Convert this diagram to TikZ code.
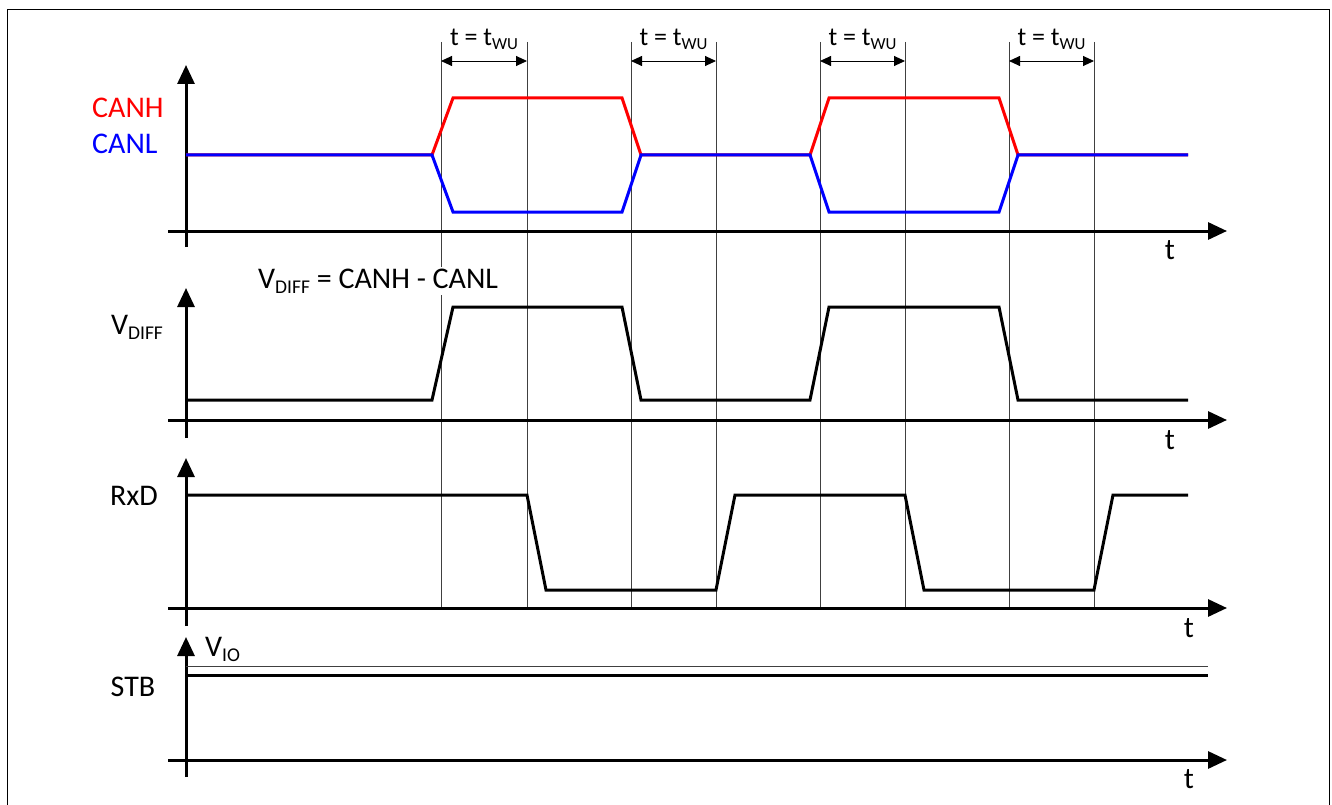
\documentclass[tikz,border=0pt]{standalone}
\usepackage{fontspec}
\setmainfont{Carlito}
\usetikzlibrary{arrows.meta}
\newcommand{\lowidx}[1]{\raisebox{-0.17em}{\scalebox{0.65}{#1}}}

\begin{document}
\begin{tikzpicture}[x=1pt, y=-1pt]
        \tikzstyle{axis}=[line width=3pt, -{Triangle[length=19pt, width=17pt]}]
        \tikzstyle{wave}=[line width=3pt, line join=miter]
        \tikzstyle{guide}=[line width=0.9pt, draw=black!75]
        \tikzstyle{span}=[line width=0.9pt, {Triangle[length=11pt, width=10pt]}-{Triangle[length=11pt, width=10pt]}]
        \tikzstyle{txt}=[inner sep=0pt, font=\fontsize{30}{36}\selectfont]
        \tikzstyle{small txt}=[inner sep=0pt, font=\fontsize{26}{31}\selectfont]
        % \draw[draw=black!20] (0,0) grid[step=100] (1332, 805);
        \useasboundingbox (0, 0) rectangle (1332, 805);
        \draw[line width=1pt] (7, 805) -- (7, 10) -- (1329, 10) -- (1329, 805);

        % guides
        \draw[guide] (441, 42) -- (441, 608);
        \draw[guide] (527, 42) -- (527, 608);
        \draw[guide] (631, 42) -- (631, 608);
        \draw[guide] (716, 42) -- (716, 608);
        \draw[guide] (820, 42) -- (820, 608);
        \draw[guide] (905, 42) -- (905, 608);
        \draw[guide] (1009, 42) -- (1009, 608);
        \draw[guide] (1094, 42) -- (1094, 608);

        \draw[span] (441, 61) -- node[small txt, above=11pt] (wu1) {t = t\lowidx{WU}} (527, 61);
        \draw[span] (631, 61) -- node[small txt, above=11pt] (wu2) {t = t\lowidx{WU}} (716, 61);
        \draw[span] (820, 61) -- node[small txt, above=11pt] (wu3) {t = t\lowidx{WU}} (905, 61);
        \draw[span] (1009, 61) -- node[small txt, above=11pt] (wu4) {t = t\lowidx{WU}} (1094, 61);

        % CANH / CANL
        \draw[axis] (186, 247) -- (186, 65);
        \draw[axis] (168, 231) -- (1227, 231);
        \node[txt, red, anchor=base west] (canh) at (92, 118) {CANH};
        \node[txt, blue, anchor=base west] (canl) at (92, 154) {CANL};
        \node[txt, anchor=base] (t1) at (1170, 259) {t};
        \draw[wave, red] (186, 155) -- (432, 155) -- (453, 98) -- (622, 98) -- (641, 155) -- (810, 155) -- (829, 98) -- (999, 98) -- (1018, 155) -- (1188, 155);
        \draw[wave, blue] (186, 155) -- (432, 155) -- (453, 212) -- (622, 212) -- (641, 155) -- (810, 155) -- (829, 212) -- (999, 212) -- (1018, 155) -- (1188, 155);

        % VDIFF
        \node[txt, fill=white, inner sep=2pt, anchor=base west] (vdef) at (256, 288) {V\lowidx{DIFF} = CANH - CANL};
        \draw[axis] (186, 438) -- (186, 288);
        \draw[axis] (168, 420) -- (1227, 420);
        \node[txt, anchor=base] (vdiff) at (137, 334) {V\lowidx{DIFF}};
        \node[txt, anchor=base] (t2) at (1170, 449) {t};
        \draw[wave] (186, 400) -- (432, 400) -- (453, 307) -- (622, 307) -- (641, 400) -- (810, 400) -- (829, 307) -- (999, 307) -- (1018, 400) -- (1188, 400);

        % RxD
        \draw[axis] (186, 626) -- (186, 458);
        \draw[axis] (168, 608) -- (1227, 608);
        \node[txt, anchor=base] (rxd) at (134, 505) {RxD};
        \node[txt, anchor=base] (t3) at (1189, 637) {t};
        \draw[wave] (186, 495) -- (527, 495) -- (546, 590) -- (716, 590) -- (735, 495) -- (905, 495) -- (924, 590) -- (1094, 590) -- (1113, 495) -- (1188, 495);

        % STB
        \draw[axis] (186, 777) -- (186, 637);
        \draw[axis] (168, 760) -- (1227, 760);
        \node[txt, anchor=base] (stb) at (133, 696) {STB};
        \node[txt, anchor=base west] (vio) at (205, 656) {V\lowidx{IO}};
        \node[txt, anchor=base] (t4) at (1189, 788) {t};
        \draw[guide] (186, 666) -- (1208, 666);
        \draw[wave] (186, 675) -- (1208, 675);
    \end{tikzpicture}
\end{document}
